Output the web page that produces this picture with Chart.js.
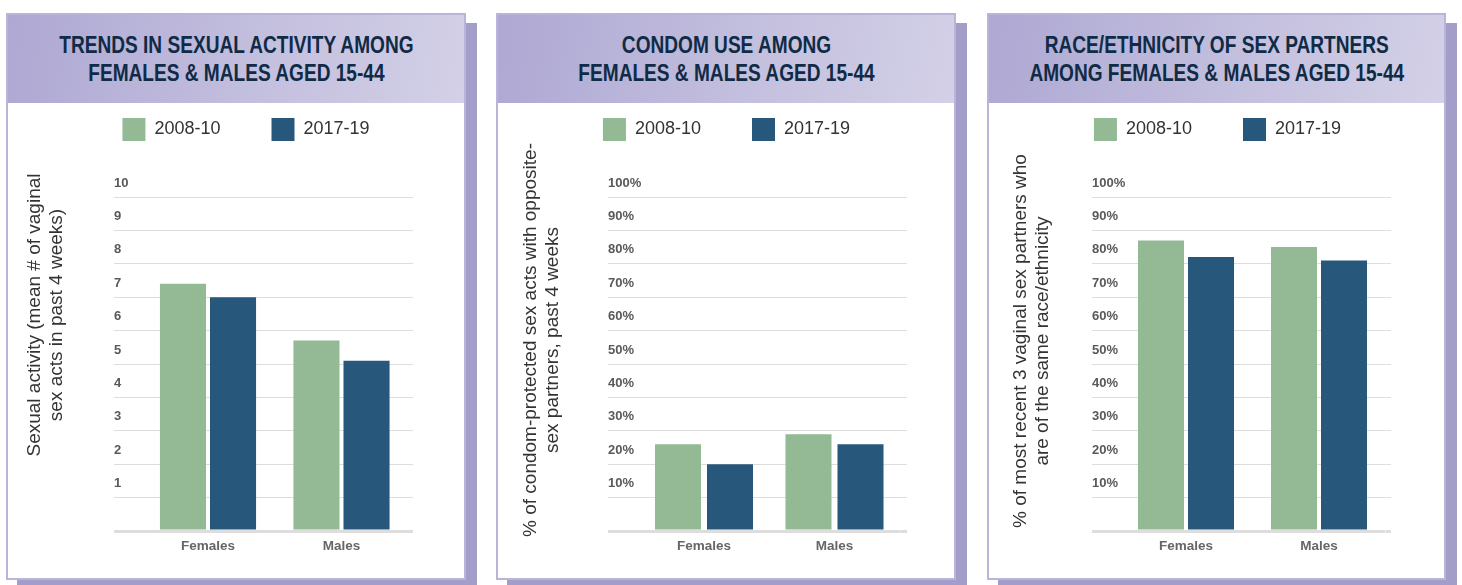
<!DOCTYPE html>
<html lang="en">
<head>
  <meta charset="UTF-8" />
  <title>Sexual activity, condom use and partner race/ethnicity</title>
  <script src="https://cdn.jsdelivr.net/npm/chart.js"></script>
  <style>
    body {
      margin: 0;
      background: #fff;
      font-family: "Liberation Sans", Arial, sans-serif;
    }
    #page {
      position: relative;
      width: 1462px;
      height: 585px;
      overflow: hidden;
    }
    .panel {
      position: absolute;
      top: 13px;
      height: 567px;
      box-sizing: border-box;
      border: 2px solid #b8b4da;
      background: #fff;
      box-shadow: 11px 10px 0 #a29ec9;
    }
    .head {
      height: 88px;
      background: linear-gradient(100deg, #aea8d3 0%, #c3bfde 55%, #d3d0e7 100%);
      display: flex;
      align-items: center;
      justify-content: center;
    }
    .head div {
      font-weight: bold;
      font-size: 23px;
      line-height: 28px;
      color: #0f2b46;
      text-align: center;
      white-space: nowrap;
      transform: scaleX(0.83);
    }
    canvas {
      position: absolute;
      left: 0;
      top: 88px;
    }
  </style>
</head>
<body>
  <div id="page">
    <div class="panel" style="left:6px;width:460px">
      <div class="head"><div id="t0"></div></div>
      <canvas id="c0" width="456" height="475"></canvas>
    </div>
    <div class="panel" style="left:496px;width:460px">
      <div class="head"><div id="t1"></div></div>
      <canvas id="c1" width="456" height="475"></canvas>
    </div>
    <div class="panel" style="left:987px;width:459px">
      <div class="head"><div id="t2"></div></div>
      <canvas id="c2" width="455" height="475"></canvas>
    </div>
  </div>

  <script>
    const categories = ['Females', 'Males'];
    const periods = ['2008-10', '2017-19'];
    const periodColors = ['#94ba95', '#27577a'];

    // mean # of vaginal sex acts, past 4 weeks
    const activity0810 = [7.4, 5.7];
    const activity1719 = [7.0, 5.1];
    // % condom-protected acts
    const condom0810 = [26, 29];
    const condom1719 = [20, 26];
    // % same race/ethnicity partners
    const sameRace0810 = [87, 85];
    const sameRace1719 = [82, 81];

    const activityTicks = ['', '1', '2', '3', '4', '5', '6', '7', '8', '9', '10'];
    const percentTicks = ['', '10%', '20%', '30%', '40%', '50%', '60%', '70%', '80%', '90%', '100%'];

    const titles = [
      ['TRENDS IN SEXUAL ACTIVITY AMONG', 'FEMALES & MALES AGED 15-44'],
      ['CONDOM USE AMONG', 'FEMALES & MALES AGED 15-44'],
      ['RACE/ETHNICITY OF SEX PARTNERS', 'AMONG FEMALES & MALES AGED 15-44']
    ];
    const yTitles = [
      ['Sexual activity (mean # of vaginal', 'sex acts in past 4 weeks)'],
      ['% of condom-protected sex acts with opposite-', 'sex partners, past 4 weeks'],
      ['% of most recent 3 vaginal sex partners who', 'are of the same race/ethnicity']
    ];

    // page positions of each panel's plot pieces
    const panels = [
      { left: 8, labelX: 114, barL: 141.25, barR: 408.25, gridEnd: 413, legendX: 246,
        titleX: [39.5, 62], titleY: 315, catPct: 0.75, barPct: 0.92 },
      { left: 498, labelX: 608, barL: 638.75, barR: 899.75, gridEnd: 907, legendX: 726.5,
        titleX: [535.5, 557.5], titleY: 340, catPct: 0.797, barPct: 0.885 },
      { left: 989, labelX: 1092, barL: 1119.5, barR: 1385.5, gridEnd: 1391, legendX: 1217.5,
        titleX: [1026, 1048], titleY: 341, catPct: 0.752, barPct: 0.92 }
    ];

    Chart.defaults.font.family = '"Liberation Sans", Arial, sans-serif';

    const canvasTop = 103;
    const gridColor = '#dddddd';
    const gridWidth = c => (c.tick && c.tick.value === 0 ? 3 : 1);

    function makeChart(i, first, second, tickLabels, max, step) {
      const p = panels[i];
      const canvas = document.getElementById('c' + i);
      const W = canvas.width, H = canvas.height;
      const cx = v => v - p.left;
      const chartTop = 197 - canvasTop;
      const chartBottom = 531 - canvasTop;
      const leftW = p.barL - p.labelX;
      const ext = p.gridEnd - p.barR;

      document.getElementById('t' + i).innerHTML = titles[i].join('<br>');

      const frame = {
        id: 'frame',
        beforeInit(chart) {
          const legend = chart.legend;
          const fit = legend.fit;
          legend.fit = function () {
            this.maxWidth = 3000;
            fit.call(this);
            this.height = chartTop;
          };
        },
        afterLayout(chart) {
          const legend = chart.legend;
          const c = cx(p.legendX);
          legend.left = c - 1000;
          legend.right = c + 1000;
          legend.top = 118 - canvasTop - 51;
        },
        afterDraw(chart) {
          const ctx = chart.ctx;
          ctx.save();
          ctx.fillStyle = '#333';
          ctx.font = '19px "Liberation Sans", Arial, sans-serif';
          ctx.textAlign = 'center';
          ctx.textBaseline = 'alphabetic';
          ctx.translate(0, p.titleY - canvasTop);
          ctx.rotate(-Math.PI / 2);
          yTitles[i].forEach((t, k) => ctx.fillText(t, 0, cx(p.titleX[k])));
          ctx.restore();
        }
      };

      return new Chart(canvas, {
        type: 'bar',
        data: {
          labels: categories,
          datasets: periods.map((label, k) => ({
            label: label,
            data: k ? second : first,
            backgroundColor: periodColors[k],
            borderWidth: 0,
            categoryPercentage: p.catPct,
            barPercentage: p.barPct,
            yAxisID: 'y'
          }))
        },
        options: {
          responsive: false,
          animation: false,
          layout: { padding: { left: cx(p.labelX), right: W - cx(p.gridEnd), top: 0, bottom: 0 } },
          plugins: {
            tooltip: { enabled: false },
            legend: {
              position: 'top',
              labels: {
                boxWidth: 23,
                boxHeight: 23,
                padding: 51,
                color: '#333',
                font: { size: 18 }
              }
            }
          },
          scales: {
            x: {
              grid: { display: false, drawTicks: false },
              border: { display: false },
              ticks: { color: '#666', font: { size: 13.5, weight: 'bold' }, padding: 7 },
              afterFit: s => { s.height = H - chartBottom; }
            },
            y: {
              position: 'left',
              min: 0,
              max: max,
              ticks: {
                stepSize: step,
                autoSkip: false,
                callback: (v, idx) => tickLabels[idx],
                mirror: true,
                crossAlign: 'near',
                padding: -leftW,
                labelOffset: -14,
                color: '#595959',
                font: { size: 13, weight: 'bold' }
              },
              grid: { color: gridColor, lineWidth: gridWidth, drawTicks: true, tickLength: leftW },
              border: { display: false },
              afterFit: s => { s.width = leftW; }
            },
            y2: {
              position: 'right',
              min: 0,
              max: max,
              ticks: { stepSize: step, display: false },
              grid: { color: gridColor, lineWidth: gridWidth, drawOnChartArea: false, drawTicks: true, tickLength: ext },
              border: { display: false },
              afterFit: s => { s.width = ext; }
            }
          }
        },
        plugins: [frame]
      });
    }

    makeChart(0, activity0810, activity1719, activityTicks, 10, 1);
    makeChart(1, condom0810, condom1719, percentTicks, 100, 10);
    makeChart(2, sameRace0810, sameRace1719, percentTicks, 100, 10);
  </script>
</body>
</html>
